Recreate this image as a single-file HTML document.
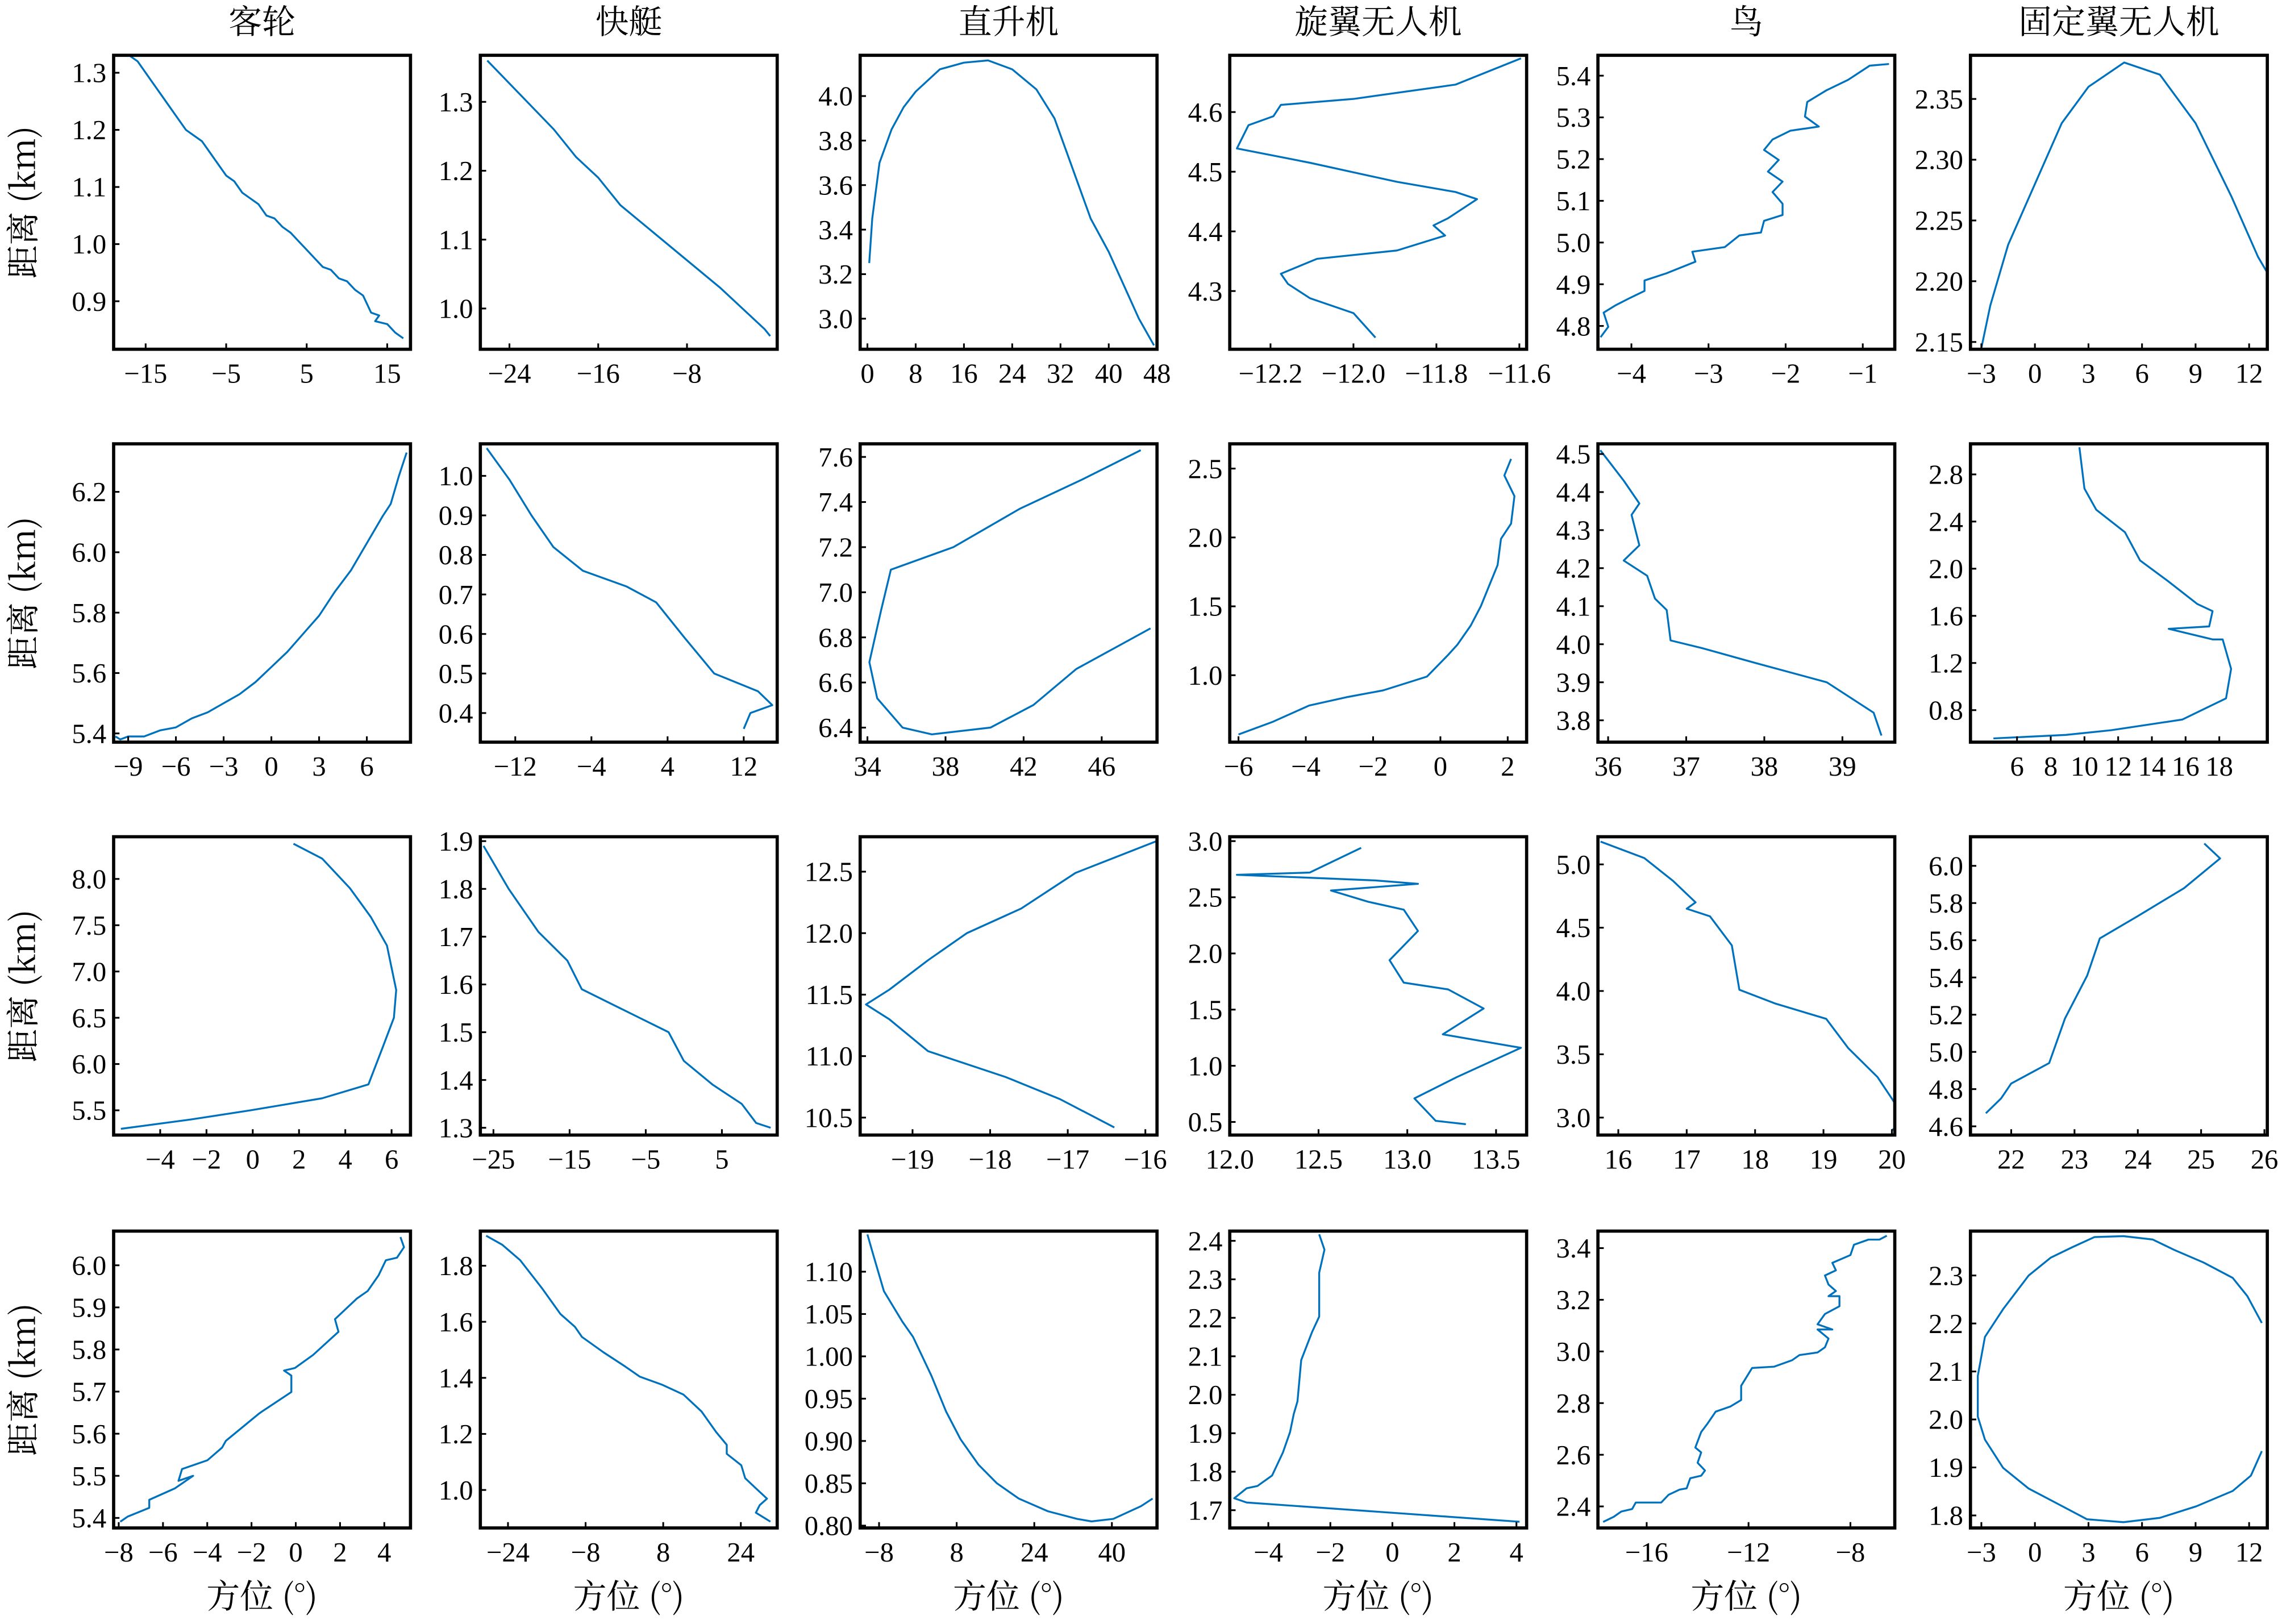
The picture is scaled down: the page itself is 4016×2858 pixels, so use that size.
<!DOCTYPE html>
<html><head><meta charset="utf-8"><style>
html,body{margin:0;padding:0;background:#fff;}
svg{display:block;}
</style></head><body>
<svg id="fig" xmlns="http://www.w3.org/2000/svg" width="4016" height="2858" viewBox="0 0 1568 1116"></svg>
<script>
// ---------- data (azimuth in degrees, range in km) ----------
const p1Az=[-17,-16,-15,-14,-13,-12,-11,-10,-9,-8,-7,-6,-5,-4,-3,-2,-1,0,1,2,3,4,5,6,7,8,9,10,11,12,12.5,13,14,13.5,15,16,17];
const p1Rng=[1.33,1.32,1.30,1.28,1.26,1.24,1.22,1.20,1.19,1.18,1.16,1.14,1.12,1.11,1.09,1.08,1.07,1.05,1.045,1.03,1.02,1.005,0.99,0.975,0.96,0.955,0.94,0.935,0.92,0.91,0.895,0.88,0.875,0.865,0.86,0.845,0.835];
const p1XTicks=[-15,-5,5,15];const p1YTicks=[0.9,1.0,1.1,1.2,1.3];
const p2Az=[-26,-23,-20,-19,-18,-16,-14,-11,-8,-5,-3,-1,-0.5];
const p2Rng=[1.36,1.31,1.26,1.24,1.22,1.19,1.15,1.11,1.07,1.03,1.0,0.97,0.96];
const p2XTicks=[-24,-16,-8];const p2YTicks=[1.0,1.1,1.2,1.3];
const p3Az=[0.3,0.8,2,4,6,8,12,16,20,24,28,31,33,35,37,40,43,45,47.5];
const p3Rng=[3.25,3.45,3.7,3.85,3.95,4.02,4.12,4.15,4.16,4.12,4.03,3.9,3.75,3.6,3.45,3.3,3.12,3.0,2.88];
const p3XTicks=[0,8,16,24,32,40,48];const p3YTicks=[3.0,3.2,3.4,3.6,3.8,4.0];
const p4Az=[-11.596,-11.754,-12.0,-12.175,-12.193,-12.253,-12.281,-12.105,-11.895,-11.754,-11.702,-11.772,-11.807,-11.779,-11.895,-12.088,-12.175,-12.158,-12.105,-12.0,-11.947];
const p4Rng=[4.69,4.646,4.622,4.612,4.593,4.578,4.539,4.515,4.483,4.466,4.454,4.422,4.41,4.393,4.368,4.354,4.329,4.312,4.288,4.263,4.222];
const p4XTicks=[-12.2,-12.0,-11.8,-11.6];const p4YTicks=[4.3,4.4,4.5,4.6];
const p5Az=[-4.40,-4.30,-4.36,-4.21,-4.02,-3.83,-3.83,-3.55,-3.17,-3.21,-2.79,-2.60,-2.32,-2.28,-2.04,-2.04,-2.17,-2.04,-2.23,-2.09,-2.28,-2.17,-1.94,-1.57,-1.75,-1.72,-1.47,-1.19,-0.91,-0.66];
const p5Rng=[4.773,4.798,4.832,4.849,4.867,4.884,4.909,4.926,4.954,4.978,4.989,5.017,5.024,5.052,5.066,5.093,5.121,5.146,5.17,5.198,5.222,5.247,5.268,5.278,5.302,5.337,5.365,5.39,5.424,5.428];
const p5XTicks=[-4,-3,-2,-1];const p5YTicks=[4.8,4.9,5.0,5.1,5.2,5.3,5.4];
const p6Az=[-3,-2.5,-1.5,0,1.5,3,5,7,9,11,12.5,13.3];
const p6Rng=[2.145,2.18,2.23,2.28,2.33,2.36,2.38,2.37,2.33,2.27,2.22,2.20];
const p6XTicks=[-3,0,3,6,9,12];const p6YTicks=[2.15,2.20,2.25,2.30,2.35];
const p7Az=[-9.8,-9.5,-9,-8,-7,-6,-5,-4,-3,-2,-1,0,1,2,3,4,5,6,7,7.5,8,8.5];
const p7Rng=[5.39,5.38,5.39,5.39,5.41,5.42,5.45,5.47,5.50,5.53,5.57,5.62,5.67,5.73,5.79,5.87,5.94,6.03,6.12,6.16,6.25,6.33];
const p7XTicks=[-9,-6,-3,0,3,6];const p7YTicks=[5.4,5.6,5.8,6.0,6.2];
const p8Az=[-15,-12.6,-10.3,-8,-4.9,-0.3,2.8,5.8,8.9,13.5,15,12.7,12];
const p8Rng=[1.07,0.99,0.90,0.82,0.76,0.72,0.68,0.59,0.50,0.455,0.42,0.40,0.36];
const p8XTicks=[-12,-4,4,12];const p8YTicks=[0.4,0.5,0.6,0.7,0.8,0.9,1.0];
const p9Az=[48.0,45,41.8,38.4,35.2,34.7,34.1,34.5,35.8,37.3,40.3,42.5,44.7,46.6,48.5];
const p9Rng=[7.63,7.5,7.37,7.2,7.1,6.92,6.69,6.53,6.40,6.37,6.40,6.5,6.66,6.75,6.84];
const p9XTicks=[34,38,42,46];const p9YTicks=[6.4,6.6,6.8,7.0,7.2,7.4,7.6];
const p10Az=[-6,-5,-3.9,-2.8,-1.7,-0.4,0.2,0.5,0.9,1.2,1.5,1.7,1.8,2.1,2.2,1.9,2.1];
const p10Rng=[0.57,0.66,0.78,0.84,0.89,0.99,1.14,1.22,1.36,1.5,1.68,1.8,1.99,2.1,2.3,2.45,2.57];
const p10XTicks=[-6,-4,-2,0,2];const p10YTicks=[1.0,1.5,2.0,2.5];
const p11Az=[35.9,36.2,36.4,36.3,36.4,36.2,36.5,36.6,36.75,36.8,37.2,37.9,38.8,39.4,39.5];
const p11Rng=[4.51,4.43,4.37,4.34,4.26,4.22,4.18,4.12,4.09,4.01,3.99,3.95,3.9,3.82,3.76];
const p11XTicks=[36,37,38,39];const p11YTicks=[3.8,3.9,4.0,4.1,4.2,4.3,4.4,4.5];
const p12Az=[9.7,10.0,10.7,12.4,13.3,15,16.7,17.6,17.4,15,17.6,18.2,18.7,18.4,15.8,11.6,8.9,4.6];
const p12Rng=[3.03,2.68,2.5,2.31,2.07,1.89,1.7,1.64,1.51,1.49,1.4,1.4,1.15,0.9,0.72,0.63,0.59,0.56];
const p12XTicks=[6,8,10,12,14,16,18];const p12YTicks=[0.8,1.2,1.6,2.0,2.4,2.8];
const p13Az=[1.76,3.0,4.2,5.1,5.8,6.2,6.1,5.6,5.0,3.0,-0.1,-2.7,-5.7];
const p13Rng=[8.38,8.22,7.9,7.59,7.28,6.8,6.5,6.17,5.78,5.63,5.5,5.4,5.3];
const p13XTicks=[-4,-2,0,2,4,6];const p13YTicks=[5.5,6.0,6.5,7.0,7.5,8.0];
const p14Az=[-26.3,-23,-19.1,-15.3,-13.4,-9.6,-5.8,-2,0,3.8,7.6,9.5,11.4];
const p14Rng=[1.89,1.80,1.71,1.65,1.59,1.56,1.53,1.50,1.44,1.39,1.35,1.31,1.30];
const p14XTicks=[-25,-15,-5,5];const p14YTicks=[1.3,1.4,1.5,1.6,1.7,1.8,1.9];
const p15Az=[-15.85,-16.9,-17.6,-18.3,-18.8,-19.3,-19.6,-19.3,-18.8,-17.8,-17.1,-16.4];
const p15Rng=[12.75,12.49,12.2,12.0,11.78,11.54,11.42,11.3,11.04,10.83,10.65,10.42];
const p15XTicks=[-19,-18,-17,-16];const p15YTicks=[10.5,11.0,11.5,12.0,12.5];
const p16Az=[12.74,12.45,12.04,12.82,13.06,12.57,12.78,12.98,13.06,12.9,12.98,13.23,13.43,13.2,13.64,13.28,13.04,13.16,13.33];
const p16Rng=[2.94,2.72,2.7,2.65,2.62,2.56,2.46,2.39,2.2,1.94,1.74,1.68,1.51,1.28,1.16,0.9,0.71,0.51,0.48];
const p16XTicks=[12.0,12.5,13.0,13.5];const p16YTicks=[0.5,1.0,1.5,2.0,2.5,3.0];
const p17Az=[15.74,16.38,16.8,17.13,17.0,17.34,17.66,17.77,18.3,19.04,19.36,19.79,20.0,20.2,20.0];
const p17Rng=[5.18,5.05,4.87,4.7,4.65,4.59,4.36,4.01,3.9,3.78,3.55,3.32,3.15,2.98,2.9];
const p17XTicks=[16,17,18,19,20];const p17YTicks=[3.0,3.5,4.0,4.5,5.0];
const p18Az=[25.05,25.3,24.73,24.0,23.4,23.2,22.85,22.6,22.0,21.84,21.6];
const p18Rng=[6.12,6.04,5.88,5.73,5.61,5.41,5.18,4.94,4.83,4.75,4.67];
const p18XTicks=[22,23,24,25,26];const p18YTicks=[4.6,4.8,5.0,5.2,5.4,5.6,5.8,6.0];
const p19Az=[-7.93,-7.6,-6.62,-6.62,-5.47,-4.64,-5.3,-5.14,-3.99,-3.33,-3.16,-1.68,-1.52,-0.2,-0.2,-0.53,-0.04,0.78,1.93,1.77,2.76,3.25,3.74,4.07,4.57,4.89,4.73];
const p19Rng=[5.391,5.403,5.424,5.443,5.47,5.5,5.488,5.516,5.537,5.567,5.583,5.647,5.653,5.699,5.738,5.75,5.756,5.787,5.842,5.872,5.921,5.939,5.976,6.012,6.018,6.043,6.067];
const p19XTicks=[-8,-6,-4,-2,0,2,4];const p19YTicks=[5.4,5.5,5.6,5.7,5.8,5.9,6.0];
const p20Az=[-28.5,-25.2,-21.5,-17.0,-13.2,-10.2,-8.75,-4.3,0.2,3.2,7.7,12.2,15.9,18.9,21.1,21.1,24.1,24.9,27.1,29.4,27.9,27.1,30.1];
const p20Rng=[1.907,1.875,1.82,1.72,1.628,1.582,1.546,1.491,1.44,1.404,1.376,1.34,1.28,1.207,1.161,1.129,1.088,1.042,1.006,0.969,0.946,0.919,0.887];
const p20XTicks=[-24,-8,8,24];const p20YTicks=[1.0,1.2,1.4,1.6,1.8];
const p21Az=[-10.4,-9.2,-7.0,-3.2,-1.0,2.8,5.8,8.8,12.5,16.3,20.8,26.8,32.8,35.8,40.3,46.0,48.4];
const p21Rng=[1.144,1.12,1.077,1.041,1.023,0.977,0.935,0.902,0.872,0.85,0.832,0.817,0.808,0.805,0.808,0.823,0.832];
const p21XTicks=[-8,8,24,40];const p21YTicks=[0.80,0.85,0.90,0.95,1.00,1.05,1.10];
const p22Az=[-2.36,-2.19,-2.36,-2.36,-2.59,-2.94,-3.06,-3.18,-3.3,-3.53,-3.88,-4.35,-4.7,-5.1,-4.7,4.1];
const p22Rng=[2.417,2.377,2.317,2.203,2.163,2.09,1.983,1.95,1.903,1.85,1.79,1.763,1.757,1.731,1.72,1.67];
const p22XTicks=[-4,-2,0,2,4];const p22YTicks=[1.7,1.8,1.9,2.0,2.1,2.2,2.3,2.4];
const p23Az=[-17.71,-17.29,-17.0,-16.57,-16.43,-15.43,-15.14,-14.71,-14.43,-14.29,-13.86,-13.71,-14.0,-13.86,-14.09,-13.86,-13.63,-13.29,-12.71,-12.29,-12.29,-11.86,-11.0,-10.29,-10.0,-9.29,-9.0,-8.86,-9.29,-8.71,-9.29,-9.0,-8.43,-8.43,-8.86,-8.57,-8.86,-9.0,-8.57,-8.71,-8.0,-7.86,-7.29,-6.86,-6.57];
const p23Rng=[2.34,2.36,2.38,2.39,2.415,2.415,2.445,2.465,2.47,2.509,2.519,2.539,2.569,2.609,2.628,2.688,2.718,2.767,2.787,2.812,2.867,2.936,2.941,2.966,2.986,2.996,3.016,3.05,3.085,3.085,3.105,3.145,3.175,3.214,3.214,3.234,3.259,3.294,3.314,3.343,3.373,3.413,3.433,3.433,3.448];
const p23XTicks=[-16,-12,-8];const p23YTicks=[2.4,2.6,2.8,3.0,3.2,3.4];
const p24Az=[12.71,11.9,11.08,9.45,7.82,6.59,4.96,3.33,2.1,0.88,-0.35,-1.78,-2.8,-3.2,-3.2,-2.8,-1.78,-0.35,1.29,2.92,4.96,7.0,9.04,11.08,12.1,12.71];
const p24Rng=[2.201,2.257,2.295,2.327,2.353,2.375,2.382,2.38,2.359,2.337,2.3,2.23,2.172,2.091,2.006,1.958,1.899,1.856,1.824,1.792,1.786,1.795,1.819,1.851,1.883,1.934];
const p24XTicks=[-3,0,3,6,9,12];const p24YTicks=[1.8,1.9,2.0,2.1,2.2,2.3];

const colTitles=['客轮','快艇','直升机','旋翼无人机','鸟','固定翼无人机'];
const colSlugs=['passenger-ship','speedboat','helicopter','rotor-drone','bird','fixed-wing-drone'];
const colX=[[78,282],[330,534],[591,795],[845,1049],[1098,1302],[1354,1558]];
const rowY=[[38,240],[305,510],[575,780],[846,1050]];

const panels=[
 {az:p1Az,rg:p1Rng,xt:p1XTicks,yt:p1YTicks,xc:[-15,100,15,266],yc:[1.3,50,0.9,207],xd:0,yd:1},
 {az:p2Az,rg:p2Rng,xt:p2XTicks,yt:p2YTicks,xc:[-24,350,-8,472],yc:[1.3,70,1.0,212],xd:0,yd:1},
 {az:p3Az,rg:p3Rng,xt:p3XTicks,yt:p3YTicks,xc:[0,596,48,795],yc:[4.0,66,3.0,219],xd:0,yd:1},
 {az:p4Az,rg:p4Rng,xt:p4XTicks,yt:p4YTicks,xc:[-12.2,873,-11.6,1044],yc:[4.6,77,4.3,200],xd:1,yd:1},
 {az:p5Az,rg:p5Rng,xt:p5XTicks,yt:p5YTicks,xc:[-4,1121,-1,1280],yc:[5.4,52,4.8,224],xd:0,yd:1},
 {az:p6Az,rg:p6Rng,xt:p6XTicks,yt:p6YTicks,xc:[-3,1361.5,12,1545.5],yc:[2.35,68,2.15,235],xd:0,yd:2},
 {az:p7Az,rg:p7Rng,xt:p7XTicks,yt:p7YTicks,xc:[-9,88,6,252],yc:[6.2,338,5.4,504],xd:0,yd:1},
 {az:p8Az,rg:p8Rng,xt:p8XTicks,yt:p8YTicks,xc:[-12,354,12,511],yc:[1.0,327,0.4,490],xd:0,yd:1},
 {az:p9Az,rg:p9Rng,xt:p9XTicks,yt:p9YTicks,xc:[34,596,46,757],yc:[7.6,314,6.4,500],xd:0,yd:1},
 {az:p10Az,rg:p10Rng,xt:p10XTicks,yt:p10YTicks,xc:[-6,851,2,1036],yc:[2.5,322,1.0,464],xd:0,yd:1},
 {az:p11Az,rg:p11Rng,xt:p11XTicks,yt:p11YTicks,xc:[36,1105,39,1266],yc:[4.5,312,3.8,495],xd:0,yd:1},
 {az:p12Az,rg:p12Rng,xt:p12XTicks,yt:p12YTicks,xc:[6,1386,18,1525],yc:[2.8,326,0.8,488],xd:0,yd:1},
 {az:p13Az,rg:p13Rng,xt:p13XTicks,yt:p13YTicks,xc:[-4,110,6,269],yc:[8.0,604,5.5,763],xd:0,yd:1},
 {az:p14Az,rg:p14Rng,xt:p14XTicks,yt:p14YTicks,xc:[-25,339,5,496],yc:[1.9,578,1.3,775],xd:0,yd:1},
 {az:p15Az,rg:p15Rng,xt:p15XTicks,yt:p15YTicks,xc:[-19,627,-16,787],yc:[12.5,599,10.5,768],xd:0,yd:1},
 {az:p16Az,rg:p16Rng,xt:p16XTicks,yt:p16YTicks,xc:[12,845,13.5,1028],yc:[3.0,578,0.5,771],xd:1,yd:1},
 {az:p17Az,rg:p17Rng,xt:p17XTicks,yt:p17YTicks,xc:[16,1112,20,1300],yc:[5.0,594,3.0,768],xd:0,yd:1},
 {az:p18Az,rg:p18Rng,xt:p18XTicks,yt:p18YTicks,xc:[22,1382,26,1556],yc:[6.0,595,4.6,774],xd:0,yd:1},
 {az:p19Az,rg:p19Rng,xt:p19XTicks,yt:p19YTicks,xc:[-8,81.5,4,264],yc:[6.0,869.5,5.4,1043.1],xd:0,yd:1},
 {az:p20Az,rg:p20Rng,xt:p20XTicks,yt:p20YTicks,xc:[-24,349,24,509],yc:[1.8,869.8,1.0,1023.9],xd:0,yd:1},
 {az:p21Az,rg:p21Rng,xt:p21XTicks,yt:p21YTicks,xc:[-8,604,40,764],yc:[1.10,873.9,0.80,1048.4],xd:0,yd:2},
 {az:p22Az,rg:p22Rng,xt:p22XTicks,yt:p22YTicks,xc:[-4,871.5,4,1042],yc:[2.4,852.7,1.7,1037.8],xd:0,yd:1},
 {az:p23Az,rg:p23Rng,xt:p23XTicks,yt:p23YTicks,xc:[-16,1131.5,-8,1271.5],yc:[3.4,857.7,2.4,1035.2],xd:0,yd:1},
 {az:p24Az,rg:p24Rng,xt:p24XTicks,yt:p24YTicks,xc:[-3,1361.5,12,1545.5],yc:[2.3,876.5,1.8,1041.4],xd:0,yd:1}
];

const NS='http://www.w3.org/2000/svg';
const svg=document.getElementById('fig');
function mk(tag,attrs,parent){const e=document.createElementNS(NS,tag);for(const k in attrs)e.setAttribute(k,attrs[k]);(parent||svg).appendChild(e);return e;}
function lin(c){const k=(c[3]-c[1])/(c[2]-c[0]);return v=>c[1]+(v-c[0])*k;}
function fmt(v,d){const s=Math.abs(v).toFixed(d);return (v<0?'\u2212':'')+s;}
const serif='"Liberation Serif","Noto Serif CJK SC",serif';
const cjk='"Noto Serif CJK SC","Liberation Serif",serif';

panels.forEach((p,i)=>{
  const r=Math.floor(i/6),c=i%6;
  const [x0,x1]=colX[c],[y0,y1]=rowY[r];
  const g=mk('g',{});
  
  
  const sx=lin(p.xc),sy=lin(p.yc);
  const cp=mk('clipPath',{id:'cp'+i},g);
  mk('rect',{x:x0,y:y0,width:x1-x0,height:y1-y0},cp);
  let d='';
  for(let j=0;j<p.az.length;j++){d+=(j?'L':'M')+sx(p.az[j]).toFixed(2)+' '+sy(p.rg[j]).toFixed(2);}
  const path=mk('path',{d:d,fill:'none',stroke:'#0072BD','stroke-width':1.3,'stroke-linejoin':'round','clip-path':'url(#cp'+i+')'},g);
  
  
  p.xt.forEach(v=>{
    const x=sx(v);
    const t=mk('line',{x1:x,x2:x,y1:y1,y2:y1-4,stroke:'#000','stroke-width':1.2},g);
    
    
    const tl=mk('text',{x:x,y:y1+23,'text-anchor':'middle','font-family':serif,'font-size':19,fill:'#000'},g);
    
    
    tl.textContent=fmt(v,p.xd);
  });
  p.yt.forEach(v=>{
    const y=sy(v);
    const t=mk('line',{x1:x0,x2:x0+4,y1:y,y2:y,stroke:'#000','stroke-width':1.2},g);
    
    
    const tl=mk('text',{x:x0-5,y:y+6.5,'text-anchor':'end','font-family':serif,'font-size':19,fill:'#000'},g);
    
    
    tl.textContent=fmt(v,p.yd);
  });
  const fr=mk('rect',{x:x0,y:y0,width:x1-x0,height:y1-y0,fill:'none',stroke:'#000','stroke-width':2.2},g);
  
  
});

colTitles.forEach((t,c)=>{
  const cx=(colX[c][0]+colX[c][1])/2;
  const e=mk('text',{x:cx,y:23,'text-anchor':'middle','font-family':cjk,'font-size':23,fill:'#000'});
  
  
  e.textContent=t;
  const xl=mk('text',{x:cx,y:1105,'text-anchor':'middle','font-family':cjk,'font-size':23,fill:'#000'});
  
  
  xl.textContent='方位 (°)';
});
rowY.forEach((ry,r)=>{
  const cy=(ry[0]+ry[1])/2;
  const e=mk('text',{x:0,y:0,transform:'translate(24,'+cy+') rotate(-90)','text-anchor':'middle','font-family':cjk,'font-size':23,fill:'#000'});
  
  
  e.textContent='距离 (km)';
});
</script>
</body></html>
